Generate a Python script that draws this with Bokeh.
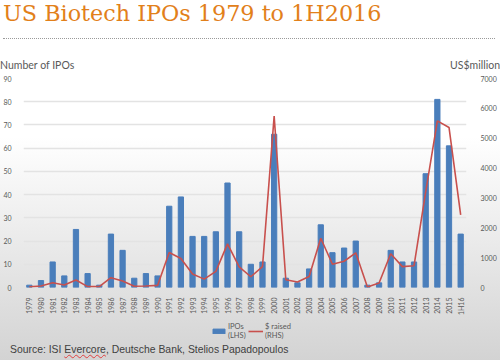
import math
from bokeh.plotting import figure
from bokeh.layouts import column
from bokeh.models import (Range1d, FactorRange, LinearAxis, FixedTicker, Div,
                          Legend, LegendItem)
from bokeh.embed import file_html
from bokeh.resources import INLINE

years = ["1979", "1980", "1981", "1982", "1983", "1984", "1985", "1986", "1987", "1988",
         "1989", "1990", "1991", "1992", "1993", "1994", "1995", "1996", "1997", "1998",
         "1999", "2000", "2001", "2002", "2003", "2004", "2005", "2006", "2007", "2008",
         "2009", "2010", "2011", "2012", "2013", "2014", "2015", "1H16"]
ipos = [1, 3, 11, 5, 25, 6, 1, 23, 16, 4, 6, 5, 35, 39, 22, 22, 24, 45, 24, 10,
        11, 66, 4, 2, 8, 27, 15, 17, 20, 1, 2, 16, 11, 11, 49, 81, 61, 23]
raised = [20, 50, 160, 85, 250, 30, 30, 330, 220, 40, 50, 70, 1170, 970, 450, 280, 540, 1460,
          690, 360, 700, 5740, 260, 185, 370, 1650, 780, 880, 1160, 20, 150, 1130, 700, 730,
          3200, 5580, 5360, 2430]
left_ticks = [0, 10, 20, 30, 40, 50, 60, 70, 80, 90]
right_ticks = [0, 1000, 2000, 3000, 4000, 5000, 6000, 7000]

title_text = "US Biotech IPOs 1979 to 1H2016"
left_label = "Number of IPOs"
right_label = "US$million"
source_text = "Source: ISI Evercore, Deutsche Bank, Stelios Papadopoulos"

TXT = "#595959"
BLUE = "#4a7ebb"
RED = "#c8504d"
W = 500
TOP_H, MAIN_H, LEG_H, FOOT_H = 72, 246, 24, 18

# ---- header ----
header = Div(width=W, height=TOP_H, margin=0, disable_math=True, text=f"""
<div style="position:relative;width:{W}px;height:{TOP_H}px;margin:0;padding:0;">
  <div style="position:absolute;left:3px;top:2px;white-space:nowrap;font-family:'DejaVu Serif';
       font-size:22.3px;line-height:1;color:#e2801a;">{title_text}</div>
  <div style="position:absolute;left:3px;top:38px;width:492px;height:0;border-top:1px dotted #9a9a9a;"></div>
  <div style="position:absolute;left:0px;top:60px;white-space:nowrap;font-family:Lato;font-size:10.5px;
       line-height:1;color:{TXT};">{left_label}</div>
  <div style="position:absolute;right:0px;top:60px;white-space:nowrap;font-family:Lato;font-size:10.5px;
       line-height:1;color:{TXT};">{right_label}</div>
</div>""")

# ---- main chart ----
p = figure(x_range=FactorRange(*years), y_range=Range1d(0, 90),
           width=W, height=MAIN_H,
           min_border_left=22, min_border_right=34, min_border_top=6,
           min_border_bottom=MAIN_H - 6 - 215,
           output_backend="svg", toolbar_location=None, tools="")
p.extra_y_ranges = {"right": Range1d(0, 7000)}
p.border_fill_color = None
p.background_fill_color = None
p.outline_line_color = None

p.vbar(x=years, top=ipos, width=0.45, color=BLUE)
p.line(x=years, y=raised, y_range_name="right", line_color=RED, line_width=1.6)

p.yaxis.ticker = FixedTicker(ticks=left_ticks)
ra = LinearAxis(y_range_name="right", ticker=FixedTicker(ticks=right_ticks))
p.add_layout(ra, "right")
for ax in [p.yaxis[0], ra]:
    ax.axis_line_color = None
    ax.major_tick_line_color = None
    ax.minor_tick_line_color = None
    ax.major_label_text_font = "Lato"
    ax.major_label_text_font_size = "7px"
    ax.major_label_text_color = TXT
p.yaxis[0].major_label_standoff = 6
ra.major_label_standoff = 8

xa = p.xaxis[0]
xa.axis_line_color = None
xa.major_tick_line_color = None
xa.major_label_orientation = math.pi / 2
xa.major_label_text_font = "Lato"
xa.major_label_text_font_size = "7px"
xa.major_label_text_color = TXT
xa.major_label_standoff = 4

p.xgrid.grid_line_color = None
p.ygrid.grid_line_color = "#e3e3e3"
p.ygrid.grid_line_width = 1.5

# ---- legend strip ----
lg = figure(width=W, height=LEG_H, x_range=Range1d(0, 1), y_range=Range1d(0, 1),
            x_axis_type=None, y_axis_type=None,
            min_border_left=22, min_border_right=34, min_border_top=0, min_border_bottom=0,
            output_backend="svg", toolbar_location=None, tools="")
lg.border_fill_color = None
lg.background_fill_color = None
lg.outline_line_color = None
lg.grid.grid_line_color = None
# hidden sample glyphs; they only feed the legend
leg_bar = lg.vbar(x=[0.5], bottom=[0], top=[1], width=0.5, fill_color=BLUE, line_color=BLUE)
leg_line = lg.line(x=[0.4, 0.6], y=[0.5, 0.5], line_color=RED, line_width=1.6)
leg_bar.visible = False
leg_line.visible = False
legend = Legend(items=[LegendItem(label="IPOs\n(LHS)", renderers=[leg_bar]),
                       LegendItem(label="$ raised\n(RHS)", renderers=[leg_line])],
                orientation="horizontal", location=(210 - 22, 2),
                background_fill_alpha=0, border_line_color=None,
                inactive_fill_alpha=0,
                label_text_font="Lato", label_text_font_size="7.5px", label_text_color=TXT,
                label_height=8, glyph_width=15, glyph_height=6, label_standoff=2, spacing=0,
                padding=0, margin=0)
lg.add_layout(legend, "center")

# ---- footer ----
footer = Div(width=W, height=FOOT_H, margin=0, disable_math=True, text=f"""
<div style="position:relative;width:{W}px;height:{FOOT_H}px;margin:0;padding:0;">
  <div style="position:absolute;left:10px;top:3px;white-space:nowrap;
       font-family:'Liberation Sans Narrow','Liberation Sans';font-size:10.4px;line-height:1;color:#404040;">
  {source_text.replace('Evercore', '<span style="text-decoration:underline wavy #e04040 1px;">Evercore</span>')}</div>
</div>""")

layout = column(header, p, lg, footer, spacing=0)
layout.styles = {"background": "linear-gradient(to bottom, #ffffff 0%, #ffffff 38%, #d3d3d3 100%)"}

open("out.html", "w").write(file_html(layout, INLINE))
